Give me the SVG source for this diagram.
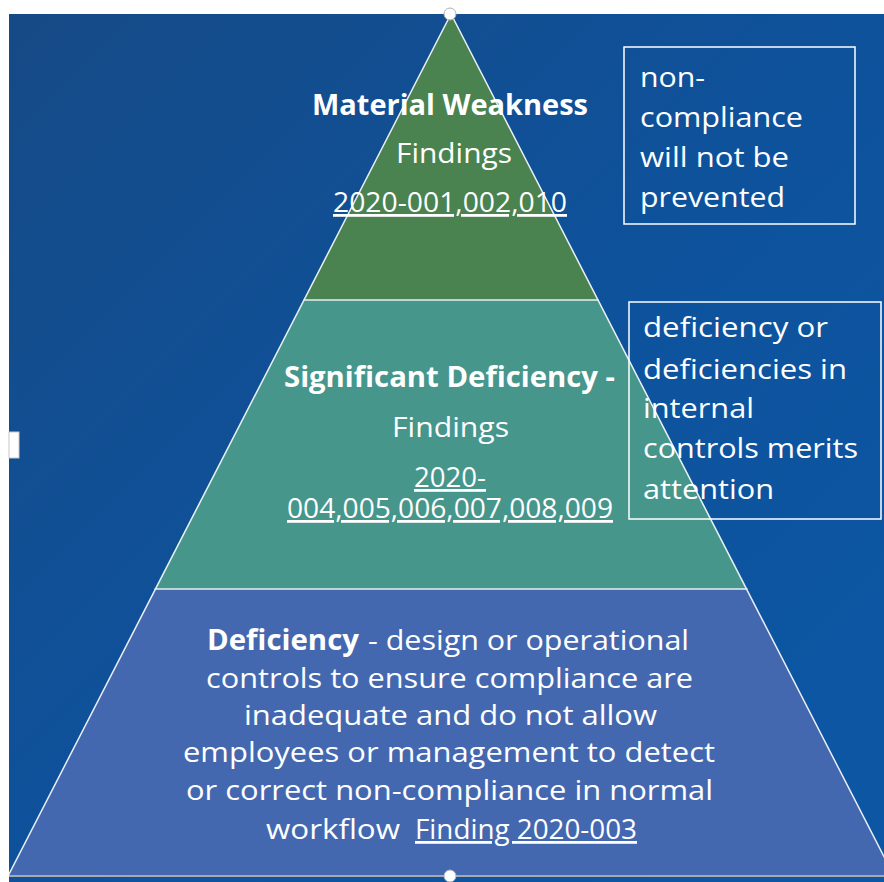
<svg xmlns="http://www.w3.org/2000/svg" width="884" height="882" viewBox="0 0 884 882">
  <defs>
    <linearGradient id="bg" x1="0" y1="0" x2="1" y2="1">
      <stop offset="0" stop-color="#164a86"/>
      <stop offset="0.5" stop-color="#0e529c"/>
      <stop offset="1" stop-color="#0c57a5"/>
    </linearGradient>
    <clipPath id="bgclip"><rect x="9" y="14" width="875" height="868"/></clipPath>
    <style>
      text { font-family: "Open Sans", "Noto Sans", "DejaVu Sans", sans-serif; font-size: 28px; fill: #ffffff; }
      .b { font-weight: bold; }
      .u { text-decoration: underline; }
      .box { fill: none; stroke: #ffffff; stroke-width: 1.5; }
      .edge { stroke: #e8eef5; stroke-width: 1.5; }
    </style>
  </defs>
  <rect x="0" y="0" width="884" height="882" fill="#ffffff"/>
  <rect x="9" y="14" width="875" height="868" fill="url(#bg)"/>

  <g clip-path="url(#bgclip)">
    <g id="layer-bottom">
      <polygon points="154.5,589 747.5,589 894,876 8,876" fill="#4468b0"/>
      <line x1="8" y1="876" x2="894" y2="876" stroke="#a7a9ad" stroke-width="2"/>
    </g>
    <g id="layer-middle">
      <polygon points="303.5,300 598.5,300 747.5,589 154.5,589" fill="#46968c"/>
    </g>
    <g id="layer-top">
      <polygon points="451,14 598.5,300 303.5,300" fill="#4a8250"/>
    </g>
    <g id="edges">
      <polyline points="8,876 451,14 894,876" fill="none" class="edge"/>
      <line x1="303.5" y1="300" x2="598.5" y2="300" class="edge"/>
      <line x1="154.5" y1="589" x2="747.5" y2="589" class="edge"/>
    </g>
  </g>

  <g id="text-top">
    <text class="b" x="312" y="115" textLength="276" lengthAdjust="spacingAndGlyphs">Material Weakness</text>
    <text x="396" y="163" textLength="116" lengthAdjust="spacingAndGlyphs">Findings</text>
    <text class="u" x="333" y="212" textLength="234" lengthAdjust="spacingAndGlyphs">2020-001,002,010</text>
  </g>

  <g id="text-middle">
    <text class="b" x="284" y="387" textLength="331" lengthAdjust="spacingAndGlyphs">Significant Deficiency -</text>
    <text x="392" y="437" textLength="117" lengthAdjust="spacingAndGlyphs">Findings</text>
    <text class="u" x="414" y="487" textLength="72" lengthAdjust="spacingAndGlyphs">2020-</text>
    <text class="u" x="287" y="518" textLength="326" lengthAdjust="spacingAndGlyphs">004,005,006,007,008,009</text>
  </g>

  <g id="text-bottom">
    <text class="b" x="207" y="650" textLength="152" lengthAdjust="spacingAndGlyphs">Deficiency</text>
    <text x="368" y="650" textLength="321" lengthAdjust="spacingAndGlyphs">- design or operational</text>
    <text x="206" y="688" textLength="487" lengthAdjust="spacingAndGlyphs">controls to ensure compliance are</text>
    <text x="244" y="725" textLength="413" lengthAdjust="spacingAndGlyphs">inadequate and do not allow</text>
    <text x="183" y="762" textLength="532" lengthAdjust="spacingAndGlyphs">employees or management to detect</text>
    <text x="186" y="800" textLength="527" lengthAdjust="spacingAndGlyphs">or correct non-compliance in normal</text>
    <text x="266" y="839" textLength="134" lengthAdjust="spacingAndGlyphs">workflow</text>
    <text class="u" x="415" y="839" textLength="222" lengthAdjust="spacingAndGlyphs">Finding 2020-003</text>
  </g>

  <g id="box-material">
    <rect class="box" x="624" y="47" width="231" height="177"/>
    <text x="640" y="87" textLength="65" lengthAdjust="spacingAndGlyphs">non-</text>
    <text x="640" y="127" textLength="163" lengthAdjust="spacingAndGlyphs">compliance</text>
    <text x="640" y="167" textLength="149" lengthAdjust="spacingAndGlyphs">will not be</text>
    <text x="640" y="207" textLength="145" lengthAdjust="spacingAndGlyphs">prevented</text>
  </g>

  <g id="box-significant">
    <rect class="box" x="629" y="302" width="252" height="217"/>
    <text x="643" y="337" textLength="185" lengthAdjust="spacingAndGlyphs">deficiency or</text>
    <text x="643" y="379" textLength="204" lengthAdjust="spacingAndGlyphs">deficiencies in</text>
    <text x="643" y="418" textLength="111" lengthAdjust="spacingAndGlyphs">internal</text>
    <text x="643" y="458" textLength="215" lengthAdjust="spacingAndGlyphs">controls merits</text>
    <text x="643" y="499" textLength="131" lengthAdjust="spacingAndGlyphs">attention</text>
  </g>

  <g id="handles">
    <rect x="9" y="432" width="10" height="26" fill="#ffffff" stroke="#c8c8c8" stroke-width="1"/>
    <circle cx="450" cy="14" r="6" fill="#ffffff" stroke="#b0b0b0" stroke-width="1"/>
    <circle cx="450" cy="876" r="6" fill="#ffffff" stroke="#b0b0b0" stroke-width="1"/>
  </g>
</svg>
